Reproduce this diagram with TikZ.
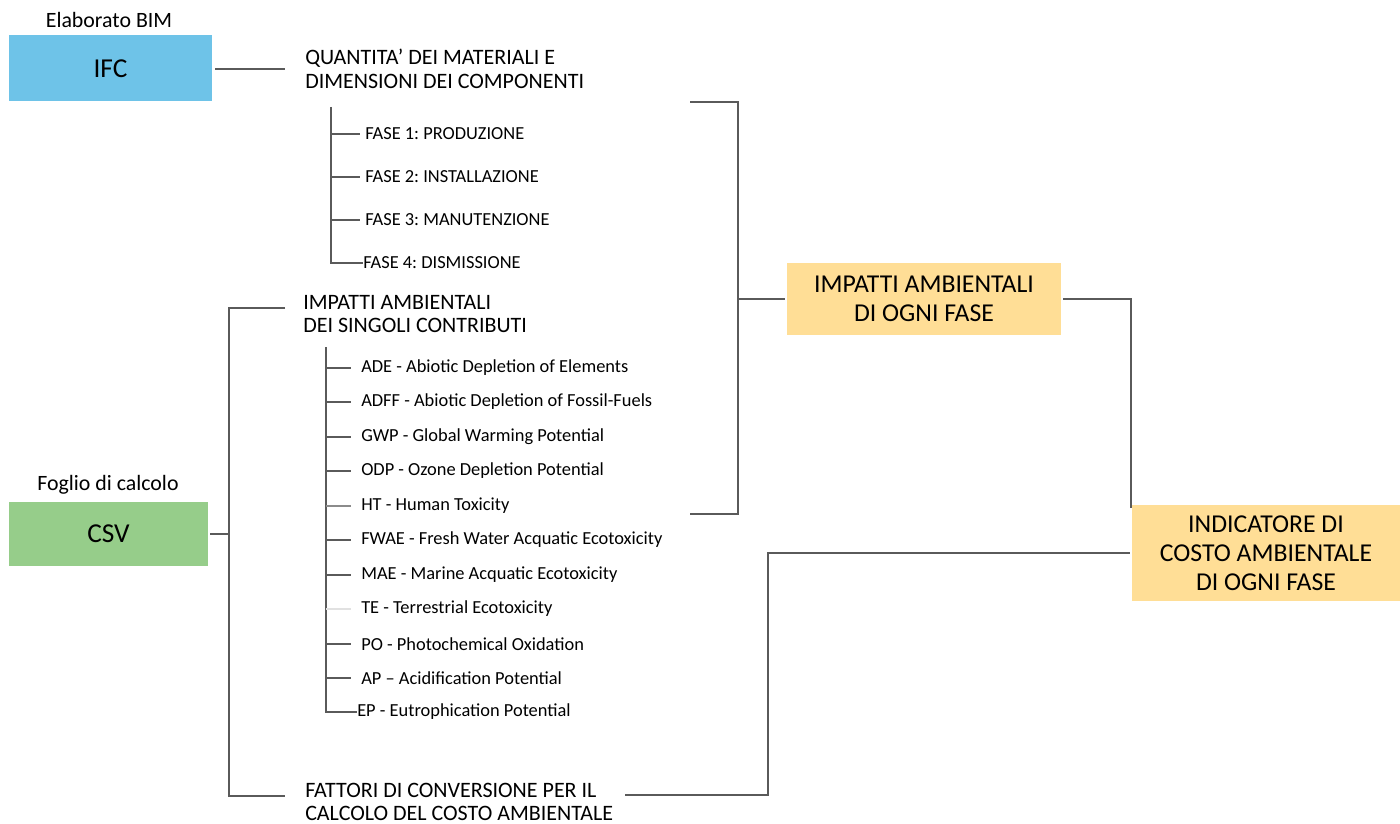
\documentclass[tikz,border=0pt]{standalone}
\usepackage{fontspec}
\setmainfont{Carlito}
\frenchspacing
\definecolor{ifcblue}{RGB}{110,195,232}
\definecolor{csvgreen}{RGB}{150,205,138}
\definecolor{boxyellow}{RGB}{255,222,150}
\definecolor{linegray}{RGB}{90,90,90}
\definecolor{lightline}{RGB}{225,225,225}
\tikzset{
  conn/.style={draw=linegray, line width=1.1pt},
  faint/.style={draw=lightline, line width=1.1pt},
  srcbox/.style={minimum width=203*0.75pt, minimum height=66*0.75pt, inner sep=0pt, font=\fontsize{20.5}{24}\selectfont},
  resbox/.style={fill=boxyellow, inner sep=0pt, align=center, font=\fontsize{19.3}{21.8}\selectfont},
  captext/.style={inner sep=0pt, font=\fontsize{16.4}{19}\selectfont},
  head/.style={inner sep=0pt, anchor=west, align=left, font=\fontsize{16.5}{17.6}\selectfont},
  item/.style={inner sep=0pt, anchor=west, font=\fontsize{13.8}{16}\selectfont},
}
\begin{document}
\begin{tikzpicture}[x=0.75pt,y=-0.75pt]
\useasboundingbox (0,0) rectangle (1400,824);
% sources
\node[captext] (bimcap) at (109,20) {Elaborato BIM};
\node[srcbox, fill=ifcblue] (ifc) at (110.5,68.5) {IFC};
\node[captext] (csvcap) at (108,485) {Foglio di calcolo};
\node[srcbox, fill=csvgreen, minimum width=199*0.75pt, minimum height=64*0.75pt] (csv) at (108.5,534) {CSV};
% headings
\node[head] (qty) at (305,69) {QUANTITA’ DEI MATERIALI E\\DIMENSIONI DEI COMPONENTI};
\node[head] (imp) at (303,314) {IMPATTI AMBIENTALI\\DEI SINGOLI CONTRIBUTI};
\node[head] (fat) at (305,802) {FATTORI DI CONVERSIONE PER IL\\CALCOLO DEL COSTO AMBIENTALE};
% phases
\node[item] (f1) at (365,134) {FASE 1: PRODUZIONE};
\node[item] (f2) at (365,177) {FASE 2: INSTALLAZIONE};
\node[item] (f3) at (365,220) {FASE 3: MANUTENZIONE};
\node[item] (f4) at (363,263) {FASE 4: DISMISSIONE};
% impacts
\node[item] (i1) at (361,368) {ADE - Abiotic Depletion of Elements};
\node[item] (i2) at (361,402) {ADFF - Abiotic Depletion of Fossil-Fuels};
\node[item] (i3) at (361,437) {GWP - Global Warming Potential};
\node[item] (i4) at (361,471) {ODP - Ozone Depletion Potential};
\node[item] (i5) at (361,506) {HT - Human Toxicity};
\node[item] (i6) at (361,540) {FWAE - Fresh Water Acquatic Ecotoxicity};
\node[item] (i7) at (361,575) {MAE - Marine Acquatic Ecotoxicity};
\node[item] (i8) at (361,609) {TE - Terrestrial Ecotoxicity};
\node[item] (i9) at (361,644) {PO - Photochemical Oxidation};
\node[item] (i10) at (361,678) {AP – Acidification Potential};
\node[item] (i11) at (357,712) {EP - Eutrophication Potential};
% result boxes
\node[resbox, minimum width=274*0.75pt, minimum height=72*0.75pt] (res1) at (924,299) {IMPATTI AMBIENTALI\\DI OGNI FASE};
\node[resbox, minimum width=268*0.75pt, minimum height=96*0.75pt] (res2) at (1266,553) {INDICATORE DI\\COSTO AMBIENTALE\\DI OGNI FASE};
% coordinates
\coordinate (ifcR) at (285,69);
\coordinate (phTop) at (331,107);
\coordinate (phBot) at (331,263);
\coordinate (impTop) at (326,347);
\coordinate (impBot) at (326,712);
\coordinate (brTop) at (690,102);
\coordinate (brBot) at (690,514);
\coordinate (brX) at (738,299);
\coordinate (csvTop) at (285,308);
\coordinate (csvBot) at (285,796);
\coordinate (csvX) at (229,534);
\coordinate (r1a) at (1131,299);
\coordinate (fatR) at (625,795);
\coordinate (fatX) at (768,553);
% connectors
\draw[conn] ([xshift=3*0.75pt]ifc.east |- ifcR) -- (ifcR);
\draw[conn] (phTop) -- (phBot) -- (f4.west);
\foreach \n in {f1,f2,f3} \draw[conn] (phTop |- \n.west) -- ([xshift=-5*0.75pt]\n.west);
\draw[conn] (impTop) -- (impBot) -- (i11.west);
\foreach \n in {i1,i2,i3,i4,i6,i7,i9,i10} \draw[conn] (impTop |- \n.west) -- ([xshift=-10*0.75pt]\n.west);
\draw[conn, draw=linegray!70] (impTop |- i5.west) -- ([xshift=-10*0.75pt]i5.west);
\draw[faint] (impTop |- i8.west) -- ([xshift=-10*0.75pt]i8.west);
\draw[conn] (brTop) -| (brX |- brBot) -- (brBot);
\draw[conn] (brX) -- ([xshift=-2*0.75pt]res1.west);
\draw[conn] ([xshift=2*0.75pt]res1.east) -| ([yshift=-3*0.75pt]r1a |- res2.north);
\draw[conn] (csvTop) -| (csvX |- csvBot) -- (csvBot);
\draw[conn] ([xshift=2*0.75pt]csv.east) -- (csvX);
\draw[conn] ([xshift=-2*0.75pt]res2.west) -- (fatX) |- (fatR);
\end{tikzpicture}
\end{document}
